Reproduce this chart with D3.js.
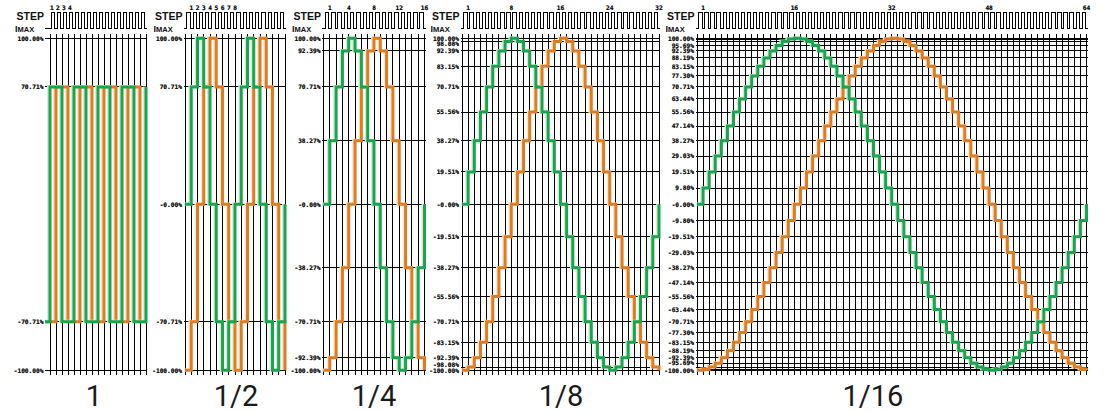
<!DOCTYPE html>
<html>
<head>
<meta charset="utf-8">
<script src="https://cdn.jsdelivr.net/npm/d3@7"></script>
<style>
    html, body { margin: 0; padding: 0; background: #fff; }
    svg { display: block; }
</style>
</head>
<body>
<svg id="chart" width="1109" height="412"></svg>
<script>
// 步进模式
var modes = ['1', '1/2', '1/4', '1/8', '1/16'];
var stepCounts = [16, 16, 16, 32, 64];
var firstStep = [-1, 0, 0, 0, 0];
var stepTicks = [
    [1, 2, 3, 4],
    [1, 2, 3, 4, 5, 6, 7, 8],
    [1, 4, 8, 12, 16],
    [1, 8, 16, 24, 32],
    [1, 16, 32, 48, 64]
];

// 电流刻度 (%)
var levelsFull = [100, 70.71, -70.71, -100];
var levelsHalf = [100, 70.71, 0, -70.71, -100];
var levelsQuarter = [100, 92.39, 70.71, 38.27, 0, -38.27, -70.71, -92.39, -100];
var levelsEighth = [100, 98.08, 92.39, 83.15, 70.71, 55.56, 38.27, 19.51, 0,
    -19.51, -38.27, -55.56, -70.71, -83.15, -92.39, -98.08, -100];
var levelsSixteenth = [100, 99.52, 98.08, 95.69, 92.39, 88.19, 83.15, 77.30, 70.71,
    63.44, 55.56, 47.14, 38.27, 29.03, 19.51, 9.80, 0,
    -9.80, -19.51, -29.03, -38.27, -47.14, -55.56, -63.44, -70.71,
    -77.30, -83.15, -88.19, -92.39, -95.69, -98.08, -99.52, -100];
var unlabelledSixteenth = [99.52, 98.08, -98.08, -99.52];

// A 相 (绿)
var fullA = [-70.71, 70.71, 70.71, -70.71, -70.71, 70.71, 70.71, -70.71, -70.71,
    70.71, 70.71, -70.71, -70.71, 70.71, 70.71, -70.71, -70.71, 70.71];
var halfA = [0, 70.71, 100, 70.71, 0, -70.71, -100, -70.71, 0,
    70.71, 100, 70.71, 0, -70.71, -100, -70.71, 0];
var quarterA = [0, 38.27, 70.71, 92.39, 100, 92.39, 70.71, 38.27, 0,
    -38.27, -70.71, -92.39, -100, -92.39, -70.71, -38.27, 0];
var eighthA = [0, 19.51, 38.27, 55.56, 70.71, 83.15, 92.39, 98.08,
    100, 98.08, 92.39, 83.15, 70.71, 55.56, 38.27, 19.51,
    0, -19.51, -38.27, -55.56, -70.71, -83.15, -92.39, -98.08,
    -100, -98.08, -92.39, -83.15, -70.71, -55.56, -38.27, -19.51, 0];
var sixteenthA = [0, 9.80, 19.51, 29.03, 38.27, 47.14, 55.56, 63.44,
    70.71, 77.30, 83.15, 88.19, 92.39, 95.69, 98.08, 99.52,
    100, 99.52, 98.08, 95.69, 92.39, 88.19, 83.15, 77.30,
    70.71, 63.44, 55.56, 47.14, 38.27, 29.03, 19.51, 9.80,
    0, -9.80, -19.51, -29.03, -38.27, -47.14, -55.56, -63.44,
    -70.71, -77.30, -83.15, -88.19, -92.39, -95.69, -98.08, -99.52,
    -100, -99.52, -98.08, -95.69, -92.39, -88.19, -83.15, -77.30,
    -70.71, -63.44, -55.56, -47.14, -38.27, -29.03, -19.51, -9.80, 0];

// B 相 (橙)
var fullB = [-70.71, -70.71, 70.71, 70.71, -70.71, -70.71, 70.71, 70.71, -70.71,
    -70.71, 70.71, 70.71, -70.71, -70.71, 70.71, 70.71, -70.71, -70.71];
var halfB = [-100, -70.71, 0, 70.71, 100, 70.71, 0, -70.71, -100,
    -70.71, 0, 70.71, 100, 70.71, 0, -70.71, -100];
var quarterB = [-100, -92.39, -70.71, -38.27, 0, 38.27, 70.71, 92.39, 100,
    92.39, 70.71, 38.27, 0, -38.27, -70.71, -92.39, -100];
var eighthB = [-100, -98.08, -92.39, -83.15, -70.71, -55.56, -38.27, -19.51,
    0, 19.51, 38.27, 55.56, 70.71, 83.15, 92.39, 98.08,
    100, 98.08, 92.39, 83.15, 70.71, 55.56, 38.27, 19.51,
    0, -19.51, -38.27, -55.56, -70.71, -83.15, -92.39, -98.08, -100];
var sixteenthB = [-100, -99.52, -98.08, -95.69, -92.39, -88.19, -83.15, -77.30,
    -70.71, -63.44, -55.56, -47.14, -38.27, -29.03, -19.51, -9.80,
    0, 9.80, 19.51, 29.03, 38.27, 47.14, 55.56, 63.44,
    70.71, 77.30, 83.15, 88.19, 92.39, 95.69, 98.08, 99.52,
    100, 99.52, 98.08, 95.69, 92.39, 88.19, 83.15, 77.30,
    70.71, 63.44, 55.56, 47.14, 38.27, 29.03, 19.51, 9.80,
    0, -9.80, -19.51, -29.03, -38.27, -47.14, -55.56, -63.44,
    -70.71, -77.30, -83.15, -88.19, -92.39, -95.69, -98.08, -99.52, -100];

var levels = [levelsFull, levelsHalf, levelsQuarter, levelsEighth, levelsSixteenth];
var unlabelled = [[], [], [], [], unlabelledSixteenth];
var phaseA = [fullA, halfA, quarterA, eighthA, sixteenthA];
var phaseB = [fullB, halfB, quarterB, eighthB, sixteenthB];

// 布局
var boxes = [
    { x0: 50, x1: 146, lead: 5, modeX: 94, tickShift: -0.67 },
    { x0: 185, x1: 285, lead: 1.5, modeX: 236, tickShift: 0 },
    { x0: 323.5, x1: 424.5, lead: 1.5, modeX: 374, tickShift: 0 },
    { x0: 462, x1: 659, lead: 1.5, modeX: 561, tickShift: 0 },
    { x0: 697, x1: 1086.5, lead: 1.5, modeX: 873, tickShift: 0 }
];

var GREEN = '#18a54b';
var ORANGE = '#df7b21';
var TICK_FONT = '"DejaVu Sans Mono", monospace';
var TICK_SIZE = 6.2;
var LABEL_GAP = 5.8;

var svg = d3.select('#chart');

var y = d3.scaleLinear().domain([-100, 100]).range([370.3, 38.3]);

function fmt(v) {
    return (v === 0 ? '-0.00' : v.toFixed(2)) + '%';
}

// 标签过密时从两端向中间推开
function labelPositions(vals) {
    var pos = {};
    var top = vals.filter(function (v) { return v >= 0; }).sort(d3.descending);
    var bottom = vals.filter(function (v) { return v < 0; }).sort(d3.ascending);
    var prev = -Infinity;
    top.forEach(function (v) {
        prev = Math.max(y(v), prev + LABEL_GAP);
        pos[v] = prev;
    });
    prev = Infinity;
    bottom.forEach(function (v) {
        prev = Math.min(y(v), prev - LABEL_GAP);
        pos[v] = prev;
    });
    return pos;
}

function drawPanel(i) {
    var box = boxes[i];
    var n = stepCounts[i];
    var x = d3.scaleLinear().domain([0, n]).range([box.x0, box.x1]);
    var d = x(1) - x(0);
    var left = box.x0 - box.lead;

    var g = svg.append('g').attr('class', 'panel');

    g.append('clipPath')
        .attr('id', 'clip' + i)
        .append('rect')
        .attr('x', left)
        .attr('y', 0)
        .attr('width', box.x1 + 3 - left)
        .attr('height', 412);

    // 网格
    var grid = g.append('g')
        .attr('stroke', '#000')
        .attr('stroke-width', 1)
        .attr('shape-rendering', 'crispEdges');

    grid.selectAll('line.h')
        .data(levels[i])
        .enter()
        .append('line')
        .attr('class', 'h')
        .attr('x1', left)
        .attr('x2', box.x1 + 1)
        .attr('y1', function (v) { return y(v); })
        .attr('y2', function (v) { return y(v); });

    grid.selectAll('line.v')
        .data(d3.range(n + 1))
        .enter()
        .append('line')
        .attr('class', 'v')
        .attr('x1', function (k) { return x(k); })
        .attr('x2', function (k) { return x(k); })
        .attr('y1', 34)
        .attr('y2', 375);

    // 电流标签
    var hidden = unlabelled[i];
    var shown = levels[i].filter(function (v) { return hidden.indexOf(v) < 0; });
    var pos = labelPositions(shown);
    g.append('g')
        .selectAll('text')
        .data(shown)
        .enter()
        .append('text')
        .attr('x', left - 1.5)
        .attr('y', function (v) { return pos[v]; })
        .attr('dy', '0.36em')
        .attr('text-anchor', 'end')
        .attr('font-family', TICK_FONT)
        .attr('font-weight', 'bold')
        .attr('font-size', TICK_SIZE)
        .attr('fill', '#000')
        .attr('stroke', '#000')
        .attr('stroke-width', 0.2)
        .text(fmt);

    // STEP 脉冲
    var lo = 28.5, hi = 12.5;
    var p = 'M' + left + ',' + lo;
    d3.range(n).forEach(function (k) {
        var a = x(k) + 0.28 * d, b = x(k) + 0.83 * d;
        p += 'L' + a + ',' + lo + 'L' + a + ',' + hi + 'L' + b + ',' + hi + 'L' + b + ',' + lo;
    });
    p += 'L' + (box.x1 + 1.3) + ',' + lo;

    g.append('path')
        .attr('d', p)
        .attr('fill', 'none')
        .attr('stroke', '#000')
        .attr('stroke-width', 1)
        .attr('shape-rendering', 'crispEdges');

    g.append('g')
        .selectAll('text')
        .data(stepTicks[i])
        .enter()
        .append('text')
        .attr('x', function (k) { return x(k + box.tickShift); })
        .attr('y', 10)
        .attr('text-anchor', 'middle')
        .attr('font-family', TICK_FONT)
        .attr('font-weight', 'bold')
        .attr('font-size', TICK_SIZE)
        .attr('fill', '#000')
        .attr('stroke', '#000')
        .attr('stroke-width', 0.2)
        .text(function (k) { return k; });

    g.append('text')
        .attr('x', left - 1)
        .attr('y', 20)
        .attr('text-anchor', 'end')
        .attr('font-family', '"Liberation Sans", Arial, sans-serif')
        .attr('font-weight', 'bold')
        .attr('font-size', 10.5)
        .attr('fill', '#111')
        .text('STEP');

    var imax = g.append('text')
        .attr('x', left - 30)
        .attr('y', 31.7)
        .attr('font-family', '"Liberation Sans", Arial, sans-serif')
        .attr('font-weight', 'bold')
        .attr('fill', '#111');
    imax.append('tspan').attr('font-size', 9).text('I');
    imax.append('tspan').attr('font-size', 7.5).text('MAX');

    // 电流曲线
    var line = d3.line()
        .x(function (v, k) { return x(k + firstStep[i]); })
        .y(function (v) { return y(v); })
        .curve(d3.curveStepAfter);

    var traces = g.append('g').attr('clip-path', 'url(#clip' + i + ')');

    [[phaseB[i], ORANGE, '#fbe6c6'], [phaseA[i], GREEN, '#cfecd7']].forEach(function (s) {
        traces.append('path')
            .attr('d', line(s[0]))
            .attr('transform', 'translate(-1.4,-0.4)')
            .attr('fill', 'none')
            .attr('stroke', s[2])
            .attr('stroke-width', 3);
        traces.append('path')
            .attr('d', line(s[0]))
            .attr('fill', 'none')
            .attr('stroke', s[1])
            .attr('stroke-width', 3)
            .attr('stroke-linejoin', 'miter');
    });

    // 模式名称
    g.append('text')
        .attr('x', box.modeX)
        .attr('y', 406)
        .attr('text-anchor', 'middle')
        .attr('font-family', 'Roboto, "Noto Sans", sans-serif')
        .attr('font-size', 29)
        .attr('fill', '#1a1a1a')
        .text(modes[i]);
}

modes.forEach(function (m, i) {
    drawPanel(i);
});
</script>
</body>
</html>
